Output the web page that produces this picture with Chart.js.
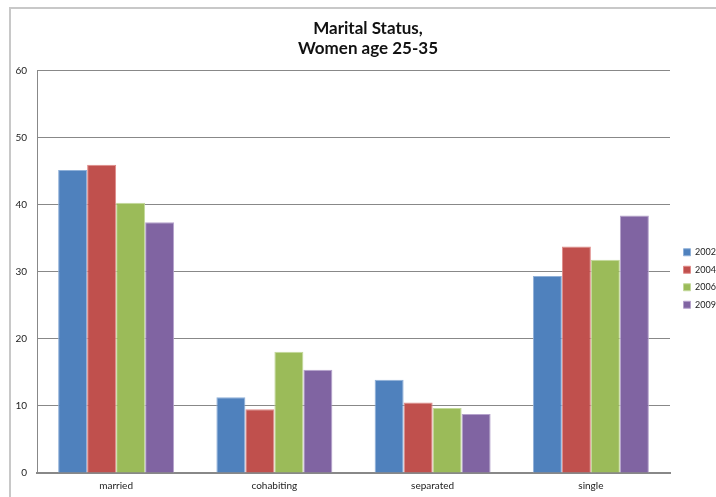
<!DOCTYPE html>
<html>
<head>
<meta charset="utf-8">
<script src="https://cdn.jsdelivr.net/npm/chart.js@4"></script>
<style>
  html, body { margin: 0; padding: 0; background: #ffffff; overflow: hidden; }
  #wrap { position: relative; width: 716px; height: 497px; }
</style>
</head>
<body>
<div id="wrap"><canvas id="c" width="716" height="497"></canvas></div>
<script>
const categories = ["married", "cohabiting", "separated", "single"];
const seriesNames = ["2002", "2004", "2006", "2009"];
const values2002 = [45.2, 11.3, 13.9, 29.4];
const values2004 = [46.0, 9.5, 10.5, 33.8];
const values2006 = [40.3, 18.1, 9.7, 31.8];
const values2009 = [37.4, 15.4, 8.8, 38.4];
const yTicks = [0, 10, 20, 30, 40, 50, 60];

const fills = ["#4F81BD", "#C0504D", "#9BBB59", "#8064A2"];
const edges = ["#8fb0d8", "#e08a88", "#c3d99a", "#b5a2cc"];
const allValues = [values2002, values2004, values2006, values2009];

const framePlugin = {
  id: "frame",
  beforeDraw(chart) {
    const ctx = chart.ctx;
    ctx.save();
    ctx.fillStyle = "#ffffff";
    ctx.fillRect(0, 0, chart.width, chart.height);
    ctx.strokeStyle = "#c8c8c8";
    ctx.lineWidth = 2;
    ctx.beginPath();
    ctx.moveTo(10, chart.height);
    ctx.lineTo(10, 8);
    ctx.lineTo(chart.width, 8);
    ctx.stroke();
    ctx.restore();
  }
};

const boxShift = {
  id: "boxShift",
  beforeLayout(chart) {
    const lg = chart.legend;
    if (lg && !lg._fixedWidth) {
      const origFit = lg.fit.bind(lg);
      lg.fit = function () { origFit(); this._natW = this.width; this.width = 46; };
      lg._fixedWidth = true;
    }
  },
  afterLayout(chart) {
    const lg = chart.legend;
    if (lg) {
      lg.left += 5;
      lg.width = lg._natW || lg.width;
      lg.right = lg.left + lg.width;
      lg.top += 30;
      lg.bottom += 30;
    }
    if (chart.titleBlock) {
      chart.titleBlock.left += 10;
      chart.titleBlock.right += 10;
    }
  }
};

new Chart(document.getElementById("c"), {
  type: "bar",
  data: {
    labels: categories,
    datasets: seriesNames.map((name, i) => ({
      label: name,
      data: allValues[i],
      backgroundColor: fills[i],
      borderColor: edges[i],
      borderWidth: 1,
      borderSkipped: "bottom"
    }))
  },
  options: {
    responsive: false,
    animation: false,
    devicePixelRatio: 1,
    layout: { padding: { left: 0, right: 0, top: 0, bottom: 0 } },
    datasets: { bar: { barPercentage: 1.0, categoryPercentage: 0.733 } },
    plugins: {
      title: {
        display: true,
        text: ["Marital Status,", "Women age 25-35"],
        color: "#111111",
        font: { family: "Lato", size: 17, weight: "bold", lineHeight: 1.2 },
        padding: { top: 18, bottom: 12 }
      },
      legend: {
        display: true,
        position: "right",
        align: "center",
        labels: {
          boxWidth: 7,
          boxHeight: 7,
          padding: 8.5,
          color: "#222222",
          font: { family: "Lato", size: 9 }
        }
      },
      tooltip: { enabled: false }
    },
    scales: {
      x: {
        grid: { display: false, drawTicks: false },
        border: { display: true, color: "#888888", width: 2 },
        ticks: { color: "#222222", padding: 7, font: { family: "Lato", size: 10 } },
        afterFit(scale) { scale.height = 24; }
      },
      y: {
        min: 0,
        max: 60,
        afterBuildTicks(scale) { scale.ticks = yTicks.map(v => ({ value: v })); },
        grid: { color: "#888888", lineWidth: 1, drawTicks: false },
        border: { display: true, color: "#888888", width: 1 },
        ticks: { color: "#222222", padding: 10, font: { family: "Lato", size: 10 } },
        afterFit(scale) { scale.width = 37; }
      }
    }
  },
  plugins: [framePlugin, boxShift]
});
</script>
</body>
</html>
